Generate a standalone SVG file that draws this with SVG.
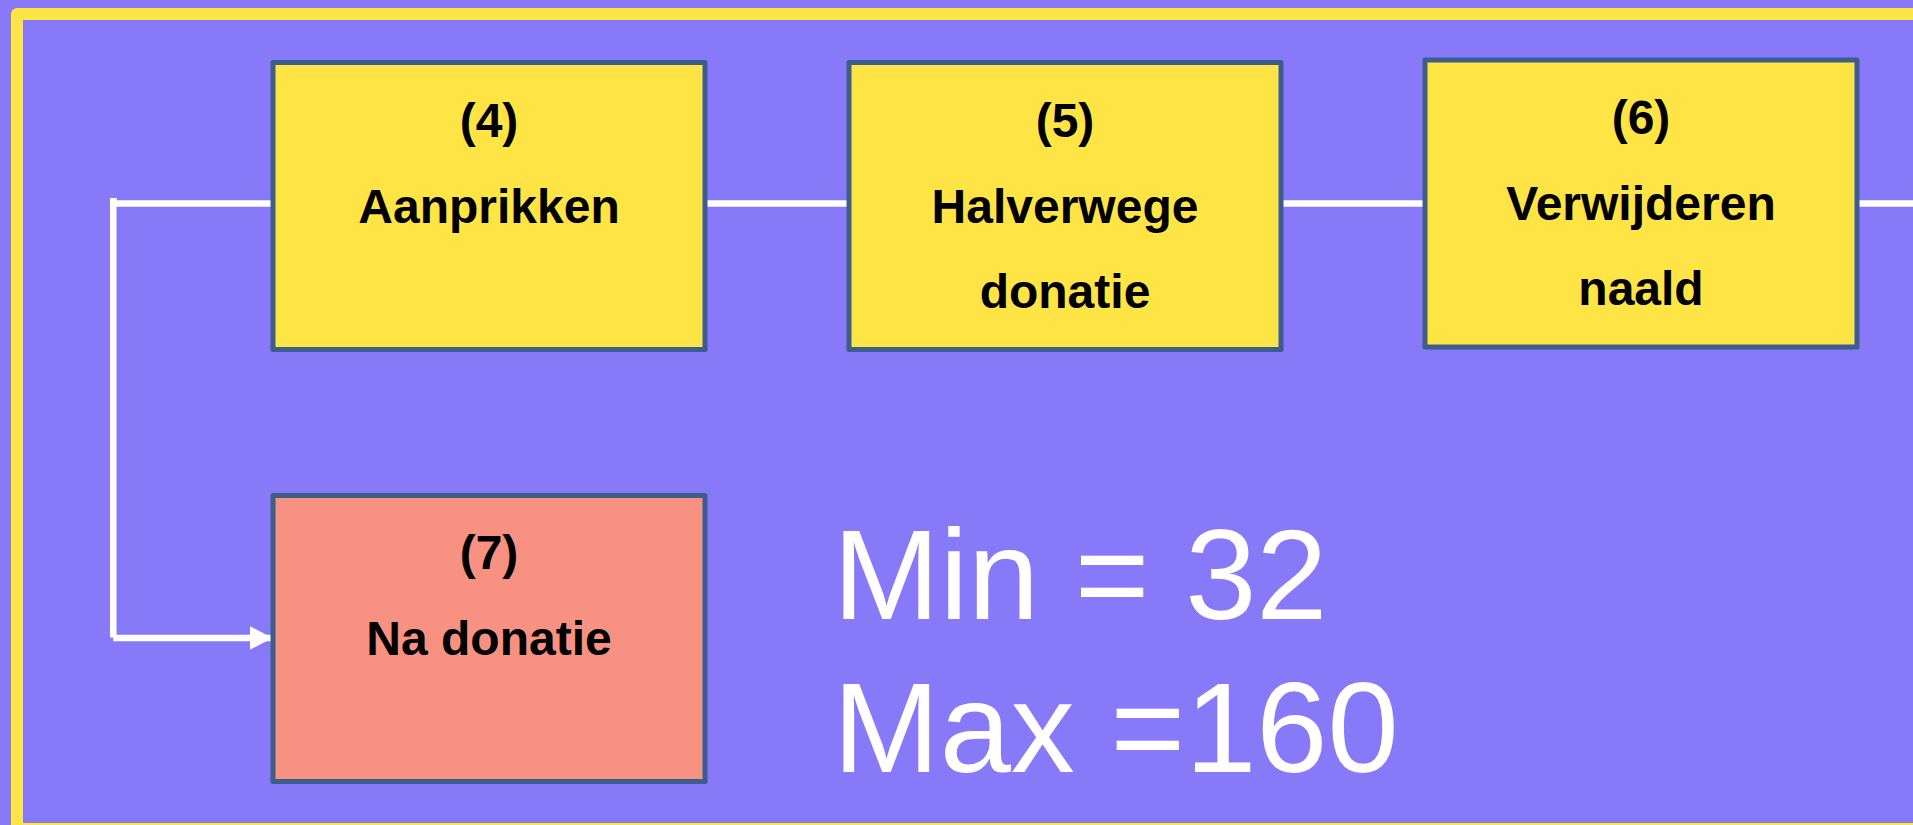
<svg xmlns="http://www.w3.org/2000/svg" width="1913" height="825" viewBox="0 0 1913 825">
  <defs>
    <style>
      .node { stroke: #3B5E8C; stroke-width: 5; stroke-linejoin: round; }
      .yellow { fill: #FFE446; }
      .salmon { fill: #F79283; }
      .lbl { font-family: "Liberation Sans", Arial, sans-serif; font-weight: bold; font-size: 48px; fill: #000; text-anchor: middle; }
      .big { font-family: "Liberation Sans", Arial, sans-serif; font-size: 128px; fill: #FFFFFF; }
      .conn { fill: none; stroke: #FFFFFF; stroke-width: 6.5; stroke-linecap: butt; stroke-linejoin: miter; }
    </style>
    <marker id="arrow" viewBox="0 0 23 24" refX="23" refY="12" markerWidth="23" markerHeight="24" markerUnits="userSpaceOnUse" orient="auto">
      <path d="M0,0 L23,12 L0,24 Z" fill="#FFFFFF"/>
    </marker>
  </defs>

  <rect x="0" y="0" width="1913" height="825" fill="#8779F7"/>
  <rect id="frame" x="17" y="14" width="1920" height="815" fill="none" stroke="#FFE446" stroke-width="12" stroke-linejoin="round"/>

  <g id="connectors">
    <polyline class="conn" points="271,203.5 113.3,203.5 113.3,198"/>
    <line class="conn" x1="113.3" y1="198" x2="113.3" y2="637.5"/>
    <line class="conn" x1="113.3" y1="638" x2="272.5" y2="638" marker-end="url(#arrow)"/>
    <line class="conn" x1="705" y1="203.5" x2="849" y2="203.5"/>
    <line class="conn" x1="1281" y1="203.5" x2="1425" y2="203.5"/>
    <line class="conn" x1="1857" y1="203.5" x2="1913" y2="203.5"/>
  </g>

  <g id="node4">
    <rect class="node yellow" x="273" y="62.5" width="432" height="287"/>
    <text class="lbl" x="489" y="137">(4)</text>
    <text class="lbl" x="489" y="223">Aanprikken</text>
  </g>

  <g id="node5">
    <rect class="node yellow" x="849" y="62.5" width="432" height="287"/>
    <text class="lbl" x="1065" y="137">(5)</text>
    <text class="lbl" x="1065" y="223">Halverwege</text>
    <text class="lbl" x="1065" y="308">donatie</text>
  </g>

  <g id="node6">
    <rect class="node yellow" x="1425" y="60" width="432" height="287"/>
    <text class="lbl" x="1641" y="134">(6)</text>
    <text class="lbl" x="1641" y="220">Verwijderen</text>
    <text class="lbl" x="1641" y="305">naald</text>
  </g>

  <g id="node7">
    <rect class="node salmon" x="273" y="495.5" width="432" height="286"/>
    <text class="lbl" x="489" y="569">(7)</text>
    <text class="lbl" x="489" y="655">Na donatie</text>
  </g>

  <g id="stats">
    <text class="big" x="833" y="619">Min = 32</text>
    <text class="big" x="833" y="772">Max =160</text>
  </g>
</svg>
